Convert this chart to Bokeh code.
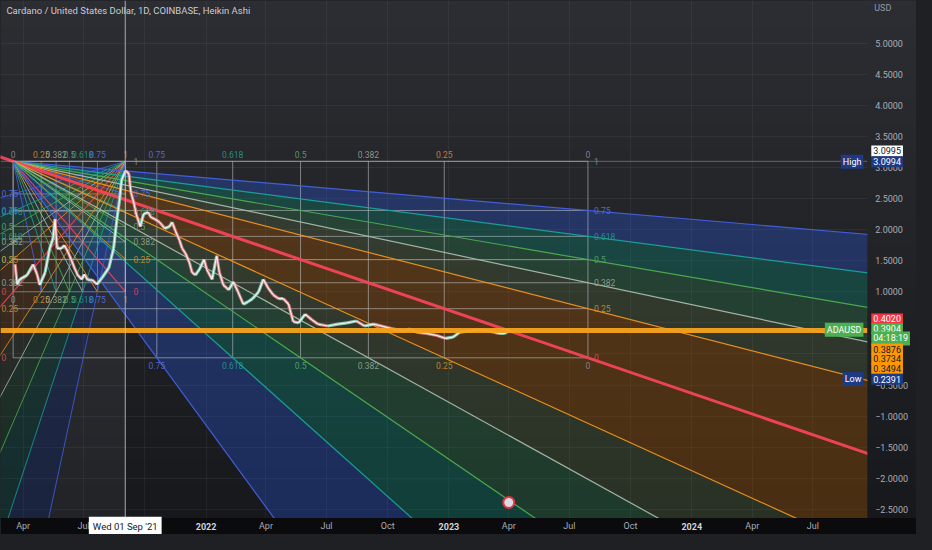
import numpy as np
import pandas as pd
from bokeh.plotting import figure
from bokeh.models import ColumnDataSource, FixedTicker, Label, Range1d
from bokeh.embed import file_html
from bokeh.resources import INLINE
from bokeh.core.properties import value

# ---------------- data ----------------
title_text = "Cardano / United States Dollar, 1D, COINBASE, Heikin Ashi"

price_dates = [
    "2021-03-20", "2021-03-23", "2021-03-27", "2021-04-07", "2021-04-16", "2021-04-22", "2021-04-26",
    "2021-05-04", "2021-05-11", "2021-05-16", "2021-05-19", "2021-05-22", "2021-05-29", "2021-06-02",
    "2021-06-07", "2021-06-13", "2021-06-17", "2021-06-22", "2021-06-28", "2021-07-02", "2021-07-07",
    "2021-07-14", "2021-07-21", "2021-07-29", "2021-08-08", "2021-08-15", "2021-08-20", "2021-08-24",
    "2021-08-27", "2021-09-02", "2021-09-07", "2021-09-10", "2021-09-14", "2021-09-18", "2021-09-24",
    "2021-09-29", "2021-10-06", "2021-10-10", "2021-10-16", "2021-10-23", "2021-10-31", "2021-11-07",
    "2021-11-11", "2021-11-16", "2021-11-22", "2021-11-26", "2021-12-01", "2021-12-07", "2021-12-11",
    "2021-12-16", "2021-12-22", "2021-12-29", "2022-01-02", "2022-01-10", "2022-01-17", "2022-01-21",
    "2022-01-27", "2022-02-04", "2022-02-11", "2022-02-18", "2022-02-26", "2022-03-05", "2022-03-12",
    "2022-03-21", "2022-03-28", "2022-04-05", "2022-04-12", "2022-04-20", "2022-04-27", "2022-05-05",
    "2022-05-12", "2022-05-20", "2022-05-30", "2022-06-09", "2022-06-18", "2022-07-03", "2022-07-18",
    "2022-08-01", "2022-08-15", "2022-08-27", "2022-09-10", "2022-09-25", "2022-10-10", "2022-10-25",
    "2022-11-04", "2022-11-13", "2022-11-28", "2022-12-13", "2022-12-27", "2023-01-07", "2023-01-17",
    "2023-02-01", "2023-02-16", "2023-03-02", "2023-03-17", "2023-03-26", "2023-04-02",
]
price_close = [
    1.44, 1.12, 1.20, 1.27, 1.44, 1.28, 1.11,
    1.31, 1.70, 1.86, 2.17, 1.70, 1.70, 1.75,
    1.65, 1.50, 1.39, 1.27, 1.20, 1.28, 1.19,
    1.19, 1.12, 1.23, 1.39, 1.70, 2.17, 2.48,
    2.80, 2.95, 2.90, 2.60, 2.45, 2.25, 2.05,
    2.25, 2.28, 2.20, 2.17, 2.12, 2.02, 2.05,
    2.12, 1.98, 1.83, 1.70, 1.62, 1.47, 1.31,
    1.27, 1.36, 1.52, 1.36, 1.20, 1.58, 1.31,
    1.11, 1.03, 1.16, 1.00, 0.80, 0.84, 0.89,
    1.00, 1.20, 1.05, 0.95, 0.89, 0.89, 0.80,
    0.52, 0.50, 0.64, 0.55, 0.48, 0.45, 0.48,
    0.50, 0.53, 0.45, 0.48, 0.44, 0.40, 0.37,
    0.40, 0.35, 0.33, 0.30, 0.25, 0.27, 0.35,
    0.37, 0.39, 0.37, 0.33, 0.33, 0.39,
]

x_start, x_end = "2021-02-26", "2024-09-21"      # plotting area (left of price scale)
y_start, y_end = -2.64, 5.6875                    # plotting area (above time scale)

y_ticks = [5.0, 4.5, 4.0, 3.5, 3.0, 2.5, 2.0, 1.5, 1.0, 0.5, 0.0, -0.5, -1.0, -1.5, -2.0, -2.5]
x_tick_dates = ["2021-04-01", "2021-07-01", "2021-10-01", "2022-01-01", "2022-04-01", "2022-07-01",
                "2022-10-01", "2023-01-01", "2023-04-01", "2023-07-01", "2023-10-01", "2024-01-01",
                "2024-04-01", "2024-07-01"]
x_tick_labels = ["Apr", "Jul", "Oct", "2022", "Apr", "Jul", "Oct", "2023", "Apr", "Jul", "Oct", "2024",
                 "Apr", "Jul"]

gann_levels = [0.75, 0.618, 0.5, 0.382, 0.25]
box_start, box_end = "2021-03-17", "2023-07-29"
box_high, box_low = 3.0995, -0.0625
small_box_end, small_box_low = "2021-09-02", 1.0

crosshair_date = "2021-09-01 12:00"
crosshair_text = "Wed 01 Sep '21"
hline_price = 0.376
event_dates = ["2023-04-01"]

tag_texts = ["3.0995", "3.0994", "0.4020", "0.3904", "04:18:19", "0.3876", "0.3734", "0.3494", "0.2391"]
tag_names = ["High", "ADAUSD", "Low"]
axis_unit = "USD"

# ---------------- helpers ----------------
def ms(s):
    return pd.Timestamp(s).value / 1e6

X0, X1 = ms(x_start), ms(x_end)

def px_x(px):  # reference-pixel -> data (for placement of scale / annotation elements)
    return X0 + (X1 - X0) * px / 882.0

def px_y(py):
    return y_end - (y_end - y_start) * py / 533.0

XF1 = px_x(932)       # full canvas right (incl. price scale)
YF0 = px_y(550)       # full canvas bottom (incl. time scale)
X_AX = px_x(882)      # price scale left edge
Y_AX = px_y(533)      # time scale top edge

FONT = "Roboto"
BG_TOP = (45, 46, 51)
BG_BOT = (23, 24, 27)

p = figure(frame_width=916, frame_height=534, x_axis_type="datetime", x_axis_location=None,
           y_axis_location=None, toolbar_location=None, output_backend="svg",
           x_range=Range1d(X0, XF1), y_range=Range1d(YF0, y_end),
           min_border_left=0, min_border_top=0, min_border_bottom=0, min_border_right=0)
p.title.visible = False
p.outline_line_color = None
p.border_fill_color = "#1f2024"
p.background_fill_color = "#26272b"


def gradient_image():
    N = 120
    img = np.empty((N, 1), dtype=np.uint32)
    view = img.view(dtype=np.uint8).reshape((N, 1, 4))
    for i in range(N):
        t = i / (N - 1)
        for k in range(3):
            view[i, 0, k] = int(BG_BOT[k] + t * (BG_TOP[k] - BG_BOT[k]))
        view[i, 0, 3] = 255
    return img

p.image_rgba(image=[gradient_image()], x=X0, y=YF0, dw=XF1 - X0, dh=y_end - YF0, level="image")

# grids
p.ygrid.ticker = FixedTicker(ticks=y_ticks)
p.xgrid.ticker = FixedTicker(ticks=[ms(d) for d in x_tick_dates])
p.grid.grid_line_color = "#ffffff"
p.grid.grid_line_alpha = 0.05

# ---------------- gann geometry ----------------
LINE_COL = {0.75: "#4461e0", 0.618: "#1aa39a", 0.5: "#4caf50", 0.382: "#a9bba9", 0.25: "#f0931e", "d": "#f7435a"}
FILL_COL = {0.75: "#2962ff", 0.618: "#089981", 0.5: "#2f9e5b", 0.382: "#9ccc65", 0.25: "#b35c00"}
FILL_A = {0.75: 0.28, 0.618: 0.30, 0.5: 0.25, 0.382: 0.14, 0.25: 0.32}
LABEL_COL = {0.75: "#5a70e0", 0.618: "#1f9e8c", 0.5: "#5fa86a", 0.382: "#9aa593", 0.25: "#d48a2c",
             0: "#8a8d96", 1: "#8a8d96"}
T = 40.0


def fan(cx, cy, ox, oy, tt):
    pts = [(ox, oy + v * (cy - oy)) for v in gann_levels]
    lv = list(gann_levels)
    pts.append((ox, oy)); lv.append("d")
    for v in reversed(gann_levels):
        pts.append((ox + v * (cx - ox), oy)); lv.append(v)
    ends = [(cx + tt * (px - cx), cy + tt * (py - cy)) for px, py in pts]
    return ends, lv


def draw_fan_fills(cx, cy, ox, oy, fill_scale, gray_tail=False):
    ends, lv = fan(cx, cy, ox, oy, T)
    xs, ys, fc, fa = [], [], [], []
    for j in range(len(ends) - 1):
        key = lv[j] if j < 5 else lv[j + 1]
        xs.append([cx, ends[j][0], ends[j + 1][0]])
        ys.append([cy, ends[j][1], ends[j + 1][1]])
        fc.append(FILL_COL[key]); fa.append(FILL_A[key] * fill_scale)
    if gray_tail:
        vend = (cx, cy + T * (oy - cy))
        xs.append([cx, ends[-1][0], vend[0]]); ys.append([cy, ends[-1][1], vend[1]])
        fc.append("#9598a1"); fa.append(0.09)
    p.patches(xs=xs, ys=ys, fill_color=fc, fill_alpha=fa, line_color=None)


def draw_fan_lines(cx, cy, ox, oy, tt, lw, diag_w, diag_back, alpha):
    ends, lv = fan(cx, cy, ox, oy, tt)
    lx, ly, lc, lws = [], [], [], []
    for (ex, ey), k in zip(ends, lv):
        if k == "d":
            sx = cx - diag_back * (ex - cx) / tt
            sy = cy - diag_back * (ey - cy) / tt
            lx.append([sx, ex]); ly.append([sy, ey]); lc.append(LINE_COL[k]); lws.append(diag_w)
        else:
            lx.append([cx, ex]); ly.append([cy, ey]); lc.append(LINE_COL[k]); lws.append(lw)
    p.multi_line(xs=lx, ys=ly, line_color=lc, line_width=lws, line_alpha=alpha)


bx0, bx1 = ms(box_start), ms(box_end)
by0, by1 = box_low, box_high
sx0, sx1 = bx0, ms(small_box_end)
sy0, sy1 = small_box_low, box_high
BW, BH = bx1 - bx0, by1 - by0
SW, SH = sx1 - sx0, sy1 - sy0

# fills
draw_fan_fills(bx0, by1, bx1, by0, 1.0)
draw_fan_fills(sx1, sy1, sx0, sy0, 0.55, gray_tail=True)

# box grid lines
grid_c = "#c8cad0"
all_v = [1.0] + gann_levels + [0.0]
p.multi_line(xs=[[bx0, bx1] for v in all_v], ys=[[by0 + v * BH] * 2 for v in all_v],
             line_color=grid_c, line_alpha=0.55, line_width=1)
p.multi_line(xs=[[bx1 - v * BW] * 2 for v in all_v], ys=[[by0, by1] for v in all_v],
             line_color=grid_c, line_alpha=0.55, line_width=1)
p.multi_line(xs=[[sx0, sx1] for v in all_v], ys=[[sy0 + v * SH] * 2 for v in all_v],
             line_color=grid_c, line_alpha=0.45, line_width=1)
p.multi_line(xs=[[sx0 + v * SW] * 2 for v in all_v], ys=[[sy0, sy1] for v in all_v],
             line_color=grid_c, line_alpha=0.45, line_width=1)

# fan lines
draw_fan_lines(sx0, sy1, sx1, sy0, 1.0, 1, 1.2, 0, 0.85)      # inside small box only
draw_fan_lines(sx1, sy1, sx0, sy0, T, 1, 1.2, 0, 0.8)
draw_fan_lines(bx0, by1, bx1, by0, T, 1.2, 3, 1, 0.95)

# gann labels
def fmt(v):
    return {1.0: "1", 0.0: "0"}.get(v, ("%g" % v))

def gl(xs, ys, texts, cols, align, base, xo=0, yo=0):
    src = ColumnDataSource(dict(x=xs, y=ys, t=texts, c=cols))
    p.text(x="x", y="y", text="t", text_color="c", source=src, text_font=value(FONT),
           text_font_size="8.5px", text_align=align, text_baseline=base, x_offset=xo, y_offset=yo,
           text_alpha=0.9)

vert_v = gann_levels + [0.0]
col_v = [LABEL_COL[v] for v in gann_levels] + [LABEL_COL[0]]
gl([bx1 - v * BW for v in vert_v], [by1] * len(vert_v), [fmt(v) for v in vert_v], col_v, "center", "bottom", 0, -3)
gl([bx1 - v * BW for v in vert_v], [by0] * len(vert_v), [fmt(v) for v in vert_v], col_v, "center", "top", 0, 4)
hor_v = [1.0] + gann_levels + [0.0]
col_h = [LABEL_COL[1]] + [LABEL_COL[v] for v in gann_levels] + ["#e0485a"]
gl([bx1] * len(hor_v), [by0 + v * BH for v in hor_v], [fmt(v) for v in hor_v], col_h, "left", "middle", 6, 0)
gl([X0] * 6, [by0 + v * BH for v in hor_v[1:]], [fmt(v) for v in hor_v[1:]], col_h[1:], "left", "middle", 1, 0)

sv = [0.0, 0.25, 0.382, 0.5, 0.618, 0.75, 1.0]
col_s = [LABEL_COL[0]] + [LABEL_COL[v] for v in [0.25, 0.382, 0.5, 0.618, 0.75]] + [LABEL_COL[1]]
gl([sx0 + v * SW for v in sv], [sy1] * 7, [fmt(v) for v in sv], col_s, "center", "bottom", 0, -3)
gl([sx0 + v * SW for v in sv], [sy0] * 7, [fmt(v) for v in sv], col_s, "center", "top", 0, 4)
gl([sx1] * 7, [sy0 + v * SH for v in hor_v], [fmt(v) for v in hor_v], col_h, "left", "middle", 8, 0)
gl([X0] * 6, [sy0 + v * SH for v in hor_v[1:]], [fmt(v) for v in hor_v[1:]], col_h[1:], "left", "middle", 1, 0)

# high marker line
p.segment(x0=[X0], y0=[box_high], x1=[X_AX], y1=[box_high], line_color="#b2b5be", line_alpha=0.45, line_width=1)

# ---------------- price ----------------
dts = [ms(d) for d in price_dates]
seg = ColumnDataSource(dict(
    x0=dts[:-1], x1=dts[1:], y0=price_close[:-1], y1=price_close[1:],
    c=["#8fdcc6" if b >= a else "#f0868b" for a, b in zip(price_close[:-1], price_close[1:])]))
p.segment(x0="x0", y0="y0", x1="x1", y1="y1", line_color="c", line_width=3.2, line_alpha=0.85, source=seg)
p.line(dts, price_close, line_color="#f4f4f4", line_width=1.2, line_alpha=0.95)

p.segment(x0=[X0], y0=[hline_price], x1=[X_AX], y1=[hline_price], line_color="#f5a21c",
          line_width=5, line_alpha=0.95)
p.segment(x0=[ms(crosshair_date)], y0=[Y_AX], x1=[ms(crosshair_date)], y1=[y_end],
          line_color="#c8cad0", line_alpha=0.8, line_width=1)

p.scatter(x=[ms(d) for d in event_dates], y=[px_y(517)] * len(event_dates), size=11,
          fill_color="#d9dde6", line_color="#e0353f", line_width=2)

# ---------------- scales (drawn over plot area edges) ----------------
p.image_rgba(image=[gradient_image()], x=X_AX, y=YF0, dw=XF1 - X_AX, dh=y_end - YF0)
p.quad(left=[X0], right=[XF1], bottom=[YF0], top=[Y_AX], fill_color="#0b0b0d", line_color=None)

yl = [("\u2212" if v < 0 else "") + "%.4f" % abs(v) for v in y_ticks]
p.text(x=[px_x(890)] * len(y_ticks), y=y_ticks, text=yl, text_color="#a9acb5", text_font=value(FONT),
       text_font_size="9px", text_align="left", text_baseline="middle")

xsrc = ColumnDataSource(dict(
    x=[ms(d) for d in x_tick_dates], y=[px_y(541.5)] * len(x_tick_dates), t=x_tick_labels,
    c=["#d1d4dc" if t.isdigit() else "#a9acb5" for t in x_tick_labels],
    s=["bold" if t.isdigit() else "normal" for t in x_tick_labels]))
p.text(x="x", y="y", text="t", text_color="c", text_font_style="s", source=xsrc, text_font=value(FONT),
       text_font_size="9px", text_align="center", text_baseline="middle")

# ---------------- annotations ----------------
def lab(text, x, y, color, size="9px", align="left", bg=None, bold=False, pad=2):
    kw = dict(x=x, y=y, text=text, text_color=color, text_font=FONT, text_font_size=size,
              text_align=align, text_baseline="middle")
    if bold:
        kw["text_font_style"] = "bold"
    if bg is not None:
        kw["background_fill_color"] = bg
        kw["padding"] = pad
    p.add_layout(Label(**kw))

lab(title_text, px_x(6), px_y(10), "#c9ccd4", size="9.5px")
lab(axis_unit, px_x(889), px_y(8), "#9598a1")

NAVY = "#1e3a84"
tag_py = [155, 166, 328, 338, 348, 359, 369, 379, 390]
tag_bg = ["#ffffff", NAVY, "#f23645", "#4caf50", "#4caf50", "#ff9800", "#ff9800", "#ff9800", NAVY]
tag_fg = ["#131722", "#ffffff", "#ffffff", "#ffffff", "#ffffff", "#131722", "#131722", "#131722", "#ffffff"]
for t, py, bg, fg in zip(tag_texts, tag_py, tag_bg, tag_fg):
    lab(t, px_x(886), px_y(py), fg, bg=bg, pad=2)
for t, py, bg in zip(tag_names, [166, 339, 390], [NAVY, "#4caf50", NAVY]):
    lab(t, px_x(878), px_y(py), "#ffffff", align="right", bg=bg, pad=2)

lab(crosshair_text, ms(crosshair_date), px_y(541.5), "#131722", size="9.5px", align="center",
    bg="#ffffff", pad=4)

template = "{% block postamble %}<style>html, body { background: #1f2024; }</style>{% endblock %}"
open("out.html", "w").write(file_html(p, INLINE, template=template))
